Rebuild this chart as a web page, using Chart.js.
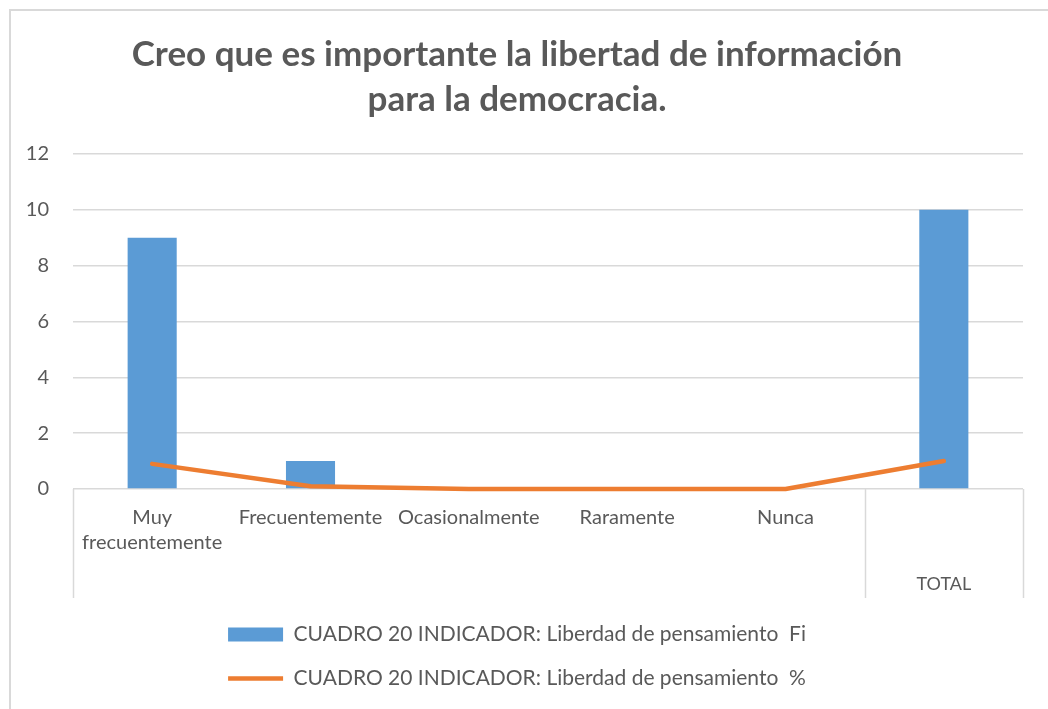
<!DOCTYPE html>
<html>
<head>
<meta charset="utf-8">
<script src="https://cdn.jsdelivr.net/npm/chart.js@4/dist/chart.umd.min.js"></script>
<style>
  html, body { margin: 0; padding: 0; background: #fff; overflow: hidden; }
  #box {
    position: absolute; left: 9px; top: 9px;
    border-left: 2px solid #d9d9d9; border-top: 2px solid #d9d9d9;
  }
  canvas { display: block; }
</style>
</head>
<body>
<div id="box"><canvas id="grafico" width="1038" height="700"></canvas></div>
<script>
// Datos del gráfico
const chartTitle = ['Creo que es importante la libertad de información', 'para la democracia.'];
const categorias = [['Muy', 'frecuentemente'], 'Frecuentemente', 'Ocasionalmente', 'Raramente', 'Nunca', ''];
const grupos = [
    { label: '', desde: 0, hasta: 4 },
    { label: 'TOTAL', desde: 5, hasta: 5 }
];
const serieFi = [9, 1, 0, 0, 0, 10];
const seriePct = [0.9, 0.1, 0, 0, 0, 1];
const nombreFi = 'CUADRO 20 INDICADOR: Liberdad de pensamiento  Fi';
const nombrePct = 'CUADRO 20 INDICADOR: Liberdad de pensamiento  %';

const textoGris = '#595959';
const lineaGris = '#d9d9d9';
const fuente = 'Lato, "Open Sans", sans-serif';

// Plugin para el eje de categorías multinivel (líneas de grupo + etiqueta TOTAL)
const ejeMultinivel = {
    id: 'ejeMultinivel',
    afterDraw(chart) {
        const x = chart.scales.x;
        const ctx = chart.ctx;
        const paso = (x.right - x.left) / categorias.length;
        const y0 = chart.chartArea.bottom;
        const y1 = y0 + 109;
        ctx.save();
        ctx.strokeStyle = lineaGris;
        ctx.lineWidth = 1.5;
        const bordes = [];
        grupos.forEach(g => {
            bordes.push(x.getPixelForValue(g.desde) - paso / 2);
        });
        const ultimo = grupos[grupos.length - 1];
        bordes.push(x.getPixelForValue(ultimo.hasta) + paso / 2);
        bordes.forEach(bx => {
            const px = Math.round(bx) + 0.5;
            ctx.beginPath();
            ctx.moveTo(px, y0);
            ctx.lineTo(px, y1);
            ctx.stroke();
        });
        ctx.fillStyle = textoGris;
        ctx.font = '18px ' + fuente;
        ctx.textAlign = 'center';
        ctx.textBaseline = 'middle';
        grupos.forEach(g => {
            if (!g.label) return;
            const cx = (x.getPixelForValue(g.desde) + x.getPixelForValue(g.hasta)) / 2;
            ctx.fillText(g.label, cx, y0 + 95);
        });
        ctx.restore();
    }
};

new Chart(document.getElementById('grafico'), {
    type: 'bar',
    data: {
        labels: categorias,
        datasets: [
            {
                label: nombreFi,
                data: serieFi,
                backgroundColor: '#5b9bd5',
                borderColor: '#5b9bd5',
                borderWidth: 0,
                categoryPercentage: 1,
                barPercentage: 0.31,
                pointStyle: 'rect',
                order: 1
            },
            {
                type: 'line',
                label: nombrePct,
                data: seriePct,
                borderColor: '#ed7d31',
                backgroundColor: '#ed7d31',
                borderWidth: 4.5,
                borderCapStyle: 'round',
                borderJoinStyle: 'round',
                pointRadius: 0,
                pointHoverRadius: 0,
                tension: 0,
                pointStyle: 'line',
                clip: false,
                order: 0
            }
        ]
    },
    options: {
        responsive: false,
        animation: false,
        layout: { padding: { left: 0, right: 26, top: 0, bottom: 12 } },
        plugins: {
            title: {
                display: true,
                text: chartTitle,
                color: textoGris,
                font: { family: fuente, size: 35, weight: 'bold', lineHeight: '45px' },
                padding: { top: 21, bottom: 32 }
            },
            legend: {
                position: 'bottom',
                labels: {
                    color: textoGris,
                    font: { family: fuente, size: 21 },
                    usePointStyle: true,
                    pointStyleWidth: 55,
                    boxHeight: 14,
                    padding: 23,
                    sort: (a, b) => a.datasetIndex - b.datasetIndex
                }
            },
            tooltip: { enabled: false }
        },
        scales: {
            x: {
                grid: { display: false },
                border: { display: false },
                ticks: {
                    color: textoGris,
                    font: { family: fuente, size: 20, lineHeight: '25px' },
                    padding: 8,
                    maxRotation: 0,
                    autoSkip: false
                },
                afterFit(scale) { scale.height = 112; }
            },
            y: {
                min: 0,
                max: 12,
                ticks: {
                    stepSize: 2,
                    color: textoGris,
                    font: { family: fuente, size: 20 },
                    padding: 24
                },
                grid: { color: lineaGris, lineWidth: 1.5, drawTicks: false },
                border: { display: false },
                afterFit(scale) { scale.width = 62; }
            }
        }
    },
    plugins: [ejeMultinivel]
});
</script>
</body>
</html>
